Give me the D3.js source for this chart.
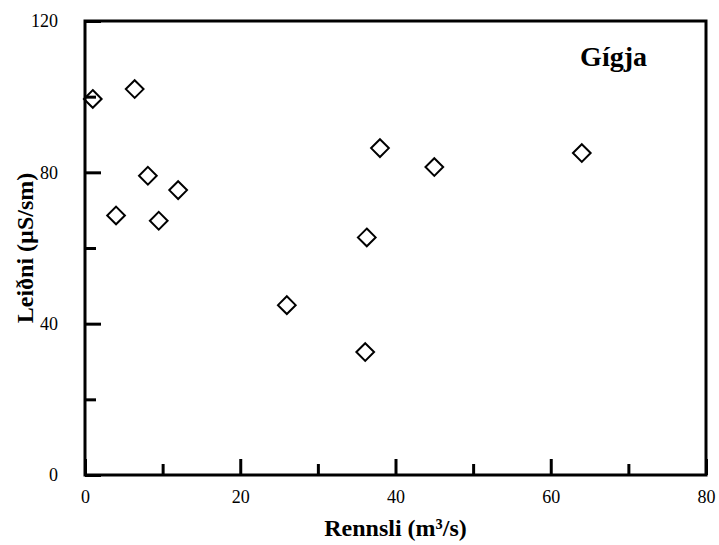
<!DOCTYPE html>
<html>
<head>
<meta charset="utf-8">
<script src="https://cdn.jsdelivr.net/npm/d3@7"></script>
<style>
  html, body { margin: 0; padding: 0; background: #fff; }
  svg { display: block; }
</style>
</head>
<body>
<svg id="chart" width="719" height="545"></svg>
<script>
// Data
const flow = [1.0, 6.4, 8.1, 12.0, 4.0, 9.5, 38.0, 45.0, 36.3, 26.0, 36.1, 64.0];          // Rennsli (m³/s)
const conductivity = [99.4, 102.0, 79.1, 75.3, 68.6, 67.2, 86.4, 81.4, 62.8, 44.9, 32.5, 85.1]; // Leiðni (µS/sm)
const xTicks = [0, 20, 40, 60, 80];
const xMinorTicks = [10, 30, 50, 70];
const yTicks = [0, 40, 80, 120];
const yMinorTicks = [20, 60, 100];
const stationLabel = "Gígja";
const xTitle = "Rennsli (m³/s)";
const yTitle = "Leiðni (µS/sm)";

const svg = d3.select("#chart");
const margin = { left: 85, right: 13, top: 21, bottom: 70 };
const W = 719, H = 545;
const x = d3.scaleLinear().domain([0, 80]).range([margin.left, W - margin.right]);
const y = d3.scaleLinear().domain([0, 120]).range([H - margin.bottom, margin.top]);

const font = "'Liberation Serif', 'Times New Roman', serif";

// Frame
svg.append("rect")
  .attr("x", x(0)).attr("y", y(120))
  .attr("width", x(80) - x(0)).attr("height", y(0) - y(120))
  .attr("fill", "none").attr("stroke", "#000").attr("stroke-width", 3);

// X axis (ticks pointing inward)
const xAxis = d3.axisBottom(x).tickValues(xTicks).tickSize(-16).tickPadding(26).tickFormat(d3.format("d"));
const gx = svg.append("g").attr("transform", `translate(0,${y(0)})`).call(xAxis);
const xAxisMinor = d3.axisBottom(x).tickValues(xMinorTicks).tickSize(-11).tickFormat("");
const gxm = svg.append("g").attr("transform", `translate(0,${y(0)})`).call(xAxisMinor);

// Y axis
const yAxis = d3.axisLeft(y).tickValues(yTicks).tickSize(-16).tickPadding(27).tickFormat(d3.format("d"));
const gy = svg.append("g").attr("transform", `translate(${x(0)},0)`).call(yAxis);
const yAxisMinor = d3.axisLeft(y).tickValues(yMinorTicks).tickSize(-11).tickFormat("");
const gym = svg.append("g").attr("transform", `translate(${x(0)},0)`).call(yAxisMinor);

[gx, gxm, gy, gym].forEach(g => {
  g.select(".domain").remove();
  g.selectAll(".tick line").attr("stroke", "#000").attr("stroke-width", 3);
  g.selectAll(".tick text")
    .attr("fill", "#000")
    .style("font-family", font)
    .style("font-size", "18px");
});
gx.selectAll(".tick text").attr("dy", "0.1em");

// Points: open diamonds
svg.append("g").selectAll("path")
  .data(flow.map((f, i) => [f, conductivity[i]]))
  .join("path")
  .attr("d", d3.symbol().type(d3.symbolDiamond2).size(200))
  .attr("transform", d => `translate(${x(d[0])},${y(d[1])})`)
  .attr("fill", "none")
  .attr("stroke", "#000")
  .attr("stroke-width", 2);

// Station label
svg.append("text")
  .attr("x", 647).attr("y", 66)
  .attr("text-anchor", "end")
  .style("font-family", font).style("font-weight", "bold").style("font-size", "28px")
  .text(stationLabel);

// Axis titles
svg.append("text")
  .attr("x", (x(0) + x(80)) / 2).attr("y", 536)
  .attr("text-anchor", "middle")
  .style("font-family", font).style("font-weight", "bold").style("font-size", "24px")
  .text(xTitle);

svg.append("text")
  .attr("transform", `translate(33,${(y(0) + y(120)) / 2}) rotate(-90)`)
  .attr("text-anchor", "middle")
  .style("font-family", font).style("font-weight", "bold").style("font-size", "24px")
  .text(yTitle);
</script>
</body>
</html>
